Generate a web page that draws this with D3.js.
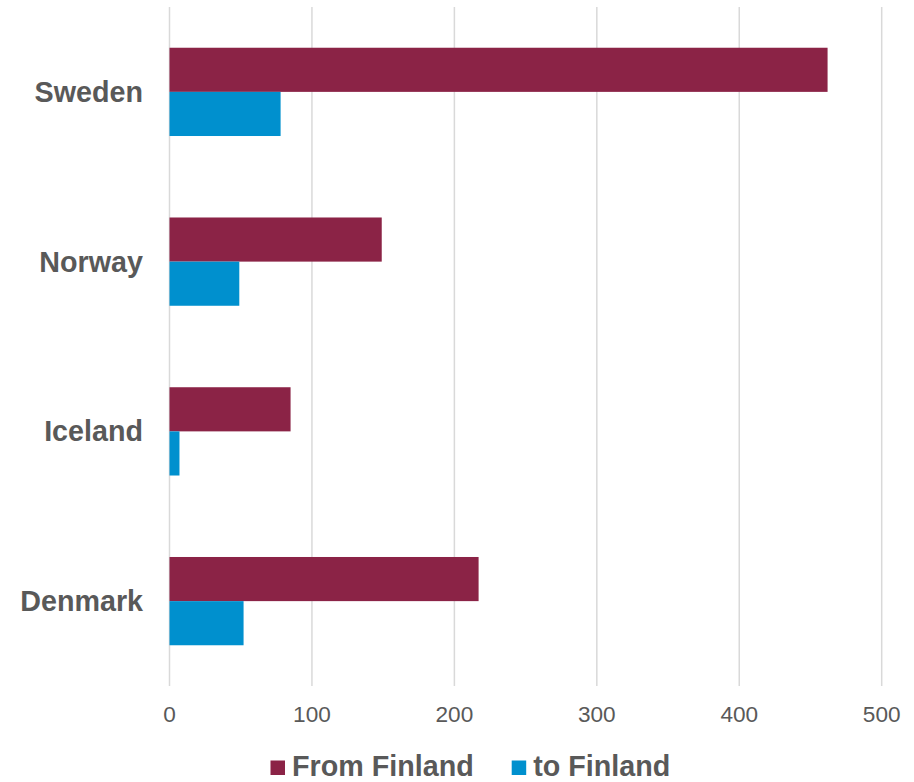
<!DOCTYPE html>
<html>
<head>
<meta charset="utf-8">
<script src="https://cdn.jsdelivr.net/npm/d3@7"></script>
<style>
  body { margin: 0; background: #fff; }
  text { font-family: Arial, "Liberation Sans", sans-serif; fill: #595959; }
</style>
</head>
<body>
<div id="chart"></div>
<script>
// data
const countries = ["Sweden", "Norway", "Iceland", "Denmark"];
const fromFinland = [462, 149, 85, 217];
const toFinland = [78, 49, 7, 52];
const seriesNames = ["From Finland", "to Finland"];
const seriesColors = ["#8B2346", "#0090CE"];
const xTicks = [0, 100, 200, 300, 400, 500];

const svgWidth = 914;
const svgHeight = 782;
const margin = { top: 7, right: 32, bottom: 96, left: 169.5 };
const width = 881.7 - margin.left;
const height = 686 - margin.top;

const svg = d3.select("#chart")
  .append("svg")
  .attr("width", svgWidth)
  .attr("height", svgHeight);

const chartGroup = svg.append("g")
  .attr("transform", `translate(${margin.left}, ${margin.top})`);

const x = d3.scaleLinear().domain([0, 500]).range([0, width]);
const y = d3.scaleBand().domain(countries).range([0, height]).paddingInner(0.48).paddingOuter(0.24);
const ySub = d3.scaleBand().domain(seriesNames).range([0, y.bandwidth()]);

// gridlines
chartGroup.selectAll("line.grid")
  .data(xTicks)
  .enter()
  .append("line")
  .attr("class", "grid")
  .attr("x1", d => x(d))
  .attr("x2", d => x(d))
  .attr("y1", 0)
  .attr("y2", height)
  .attr("stroke", "#d9d9d9")
  .attr("stroke-width", 1.5);

// tick labels
chartGroup.selectAll("text.tick")
  .data(xTicks)
  .enter()
  .append("text")
  .attr("class", "tick")
  .attr("x", d => x(d))
  .attr("y", height + 36)
  .attr("text-anchor", "middle")
  .style("font-size", "22.6px")
  .text(d => d);

// bars
const rows = countries.map((c, i) => ({ country: c, values: [fromFinland[i], toFinland[i]] }));

const groups = chartGroup.selectAll("g.row")
  .data(rows)
  .enter()
  .append("g")
  .attr("class", "row")
  .attr("transform", d => `translate(0, ${y(d.country)})`);

groups.selectAll("rect")
  .data(d => d.values.map((v, j) => ({ name: seriesNames[j], value: v, color: seriesColors[j] })))
  .enter()
  .append("rect")
  .attr("x", 0)
  .attr("y", d => ySub(d.name))
  .attr("width", d => x(d.value))
  .attr("height", ySub.bandwidth())
  .attr("fill", d => d.color);

// category labels
chartGroup.selectAll("text.cat")
  .data(countries)
  .enter()
  .append("text")
  .attr("class", "cat")
  .attr("x", 143 - margin.left)
  .attr("y", d => y(d) + y.bandwidth() / 2)
  .attr("dy", "0.35em")
  .attr("text-anchor", "end")
  .style("font-size", "28.7px")
  .style("font-weight", "bold")
  .text(d => d);

// legend
const legendX = [270.5, 511.7];
const legend = svg.selectAll("g.legend")
  .data(seriesNames)
  .enter()
  .append("g")
  .attr("class", "legend")
  .attr("transform", (d, i) => `translate(${legendX[i]}, 0)`);

legend.append("rect")
  .attr("x", 0)
  .attr("y", 760.5)
  .attr("width", 14.5)
  .attr("height", 14.5)
  .attr("fill", (d, i) => seriesColors[i]);

legend.append("text")
  .attr("x", 21.5)
  .attr("y", 775.5)
  .style("font-size", "28.7px")
  .style("font-weight", "bold")
  .text(d => d);
</script>
</body>
</html>
